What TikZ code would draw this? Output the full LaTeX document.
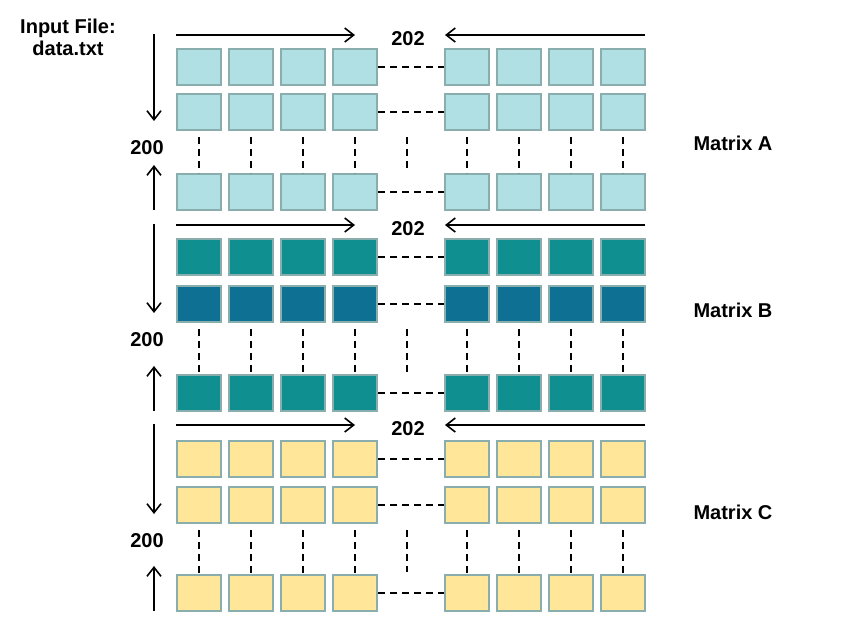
\documentclass[tikz,border=0pt]{standalone}
\usepackage{fontspec}
\setmainfont{Liberation Sans}
\usetikzlibrary{arrows.meta}
\begin{document}
\begin{tikzpicture}[x=1pt,y=-1pt,
  cellA/.style={draw=boxA,fill=fillA,line width=2pt,minimum width=44pt,minimum height=36pt,inner sep=0pt},
  lbl/.style={font=\bfseries\fontsize{20}{22}\selectfont},
  dsh/.style={dash pattern=on 7pt off 5pt,line width=1.6pt},
  arr/.style={-{Straight Barb[length=9pt,width=14pt,line width=1.6pt]},line width=1.6pt}]
\definecolor{boxA}{HTML}{8AADAD}
\definecolor{fillA}{HTML}{B0E0E3}
\definecolor{fillB}{HTML}{0F8F8F}
\definecolor{fillB2}{HTML}{0E7193}
\definecolor{fillC}{HTML}{FFE699}
\useasboundingbox (0,0) rectangle (852,630);
\node[lbl,align=center] (inp) at (68,37) {Input File:\\data.txt};
\foreach \m/\t/\ra/\rb/\rc/\fa/\fb/\nm/\lab in {A/35/48/93/173/fillA/fillA/Matrix A/143, B/225/238/285/374/fillB/fillB2/Matrix B/310, C/425/440/486/574/fillC/fillC/Matrix C/512}{
  \foreach \i/\x in {1/176,2/228,3/280,4/332,5/444,6/496,7/548,8/600}{
    \node[cellA,fill=\fa,anchor=north west] (\m a\i) at (\x,\ra) {};
    \node[cellA,fill=\fb,anchor=north west] (\m b\i) at (\x,\rb) {};
    \node[cellA,fill=\fa,anchor=north west] (\m c\i) at (\x,\rc) {};
    \draw[dsh] ([yshift=-6pt]\m b\i.south) -- (\m c\i.north);
  }
  \draw[dsh] (\m a4.east) -- (\m a5.west);
  \draw[dsh] (\m b4.east) -- (\m b5.west);
  \draw[dsh] (\m c4.east) -- (\m c5.west);
  \coordinate (\m mt) at (407,\rb+44);
  \coordinate (\m mb) at (407,\rc-2);
  \draw[dsh] (\m mt) -- (\m mb);
  \node[lbl] (\m n) at (408,\t+4) {202};
  \coordinate (\m hl) at (176,\t);
  \coordinate (\m hr) at (355,\t);
  \coordinate (\m gl) at (645,\t);
  \coordinate (\m gr) at (445,\t);
  \draw[arr] (\m hl) -- (\m hr);
  \draw[arr] (\m gl) -- (\m gr);
  \coordinate (\m vt) at (154,\t-1);
  \coordinate (\m vb) at (154,\rb+28);
  \draw[arr] (\m vt) -- (\m vb);
  \coordinate (\m ut) at (154,\rc-8);
  \coordinate (\m ub) at (154,\rc+37);
  \draw[arr] (\m ub) -- (\m ut);
  \node[lbl] (\m v) at (147,\rb+55) {200};
  \node[lbl] (\m l) at (733,\lab) {\nm};
}
\end{tikzpicture}
\end{document}
